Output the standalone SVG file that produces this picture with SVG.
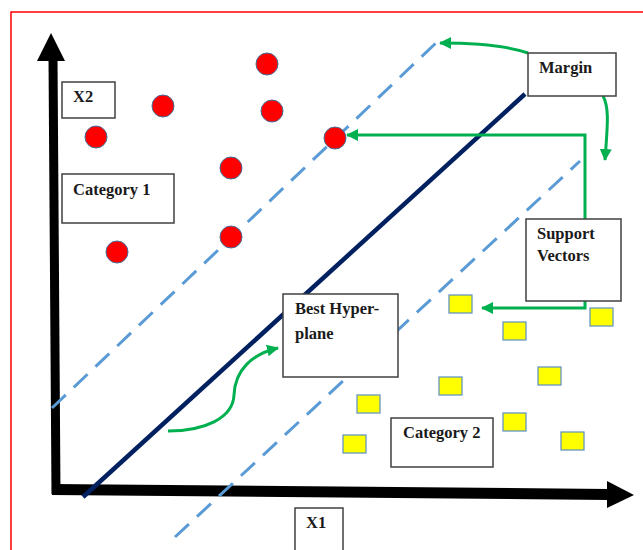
<svg xmlns="http://www.w3.org/2000/svg" width="643" height="550" viewBox="0 0 643 550">
  <style>
    .box { fill: #ffffff; stroke: #404040; stroke-width: 1.5; }
    .lbl { font-family: "Liberation Serif", "Times New Roman", serif; font-weight: bold; font-size: 16.5px; fill: #1a1a1a; }
    .pt1 { fill: #ff0000; stroke: #41719c; stroke-width: 1; }
    .pt2 { fill: #ffff00; stroke: #5b8ec4; stroke-width: 1.2; }
    .dash { fill: none; stroke: #5b9bd5; stroke-width: 3; stroke-dasharray: 19 11; }
    .green { fill: none; stroke: #00b050; stroke-width: 3; }
  </style>
  <defs>
    <marker id="ga" markerUnits="userSpaceOnUse" markerWidth="14" markerHeight="14" refX="11" refY="6" orient="auto">
      <path d="M0,0 L12,6 L0,12 Z" fill="#00b050"/>
    </marker>
  </defs>
  <rect x="0" y="0" width="643" height="550" fill="#ffffff"/>
  <!-- red frame -->
  <path d="M11,550 L11,12 L643,12" fill="none" stroke="#ff0000" stroke-width="1.5"/>

  <!-- axes -->
  <g id="axes">
    <line x1="53" y1="58" x2="56" y2="494" stroke="#000" stroke-width="9"/>
    <polygon points="51,33 37,61 65,61" fill="#000"/>
    <line x1="52" y1="489.5" x2="609" y2="494.5" stroke="#000" stroke-width="11"/>
    <polygon points="607,481 634,495 607,508" fill="#000"/>
  </g>

  <!-- lines -->
  <g id="hyperplane">
    <line x1="83" y1="497" x2="525" y2="94" stroke="#002060" stroke-width="4.5"/>
    <line x1="52" y1="408" x2="437" y2="42" class="dash"/>
    <line x1="175" y1="537" x2="580" y2="161" class="dash"/>
  </g>

  <!-- category 1 points -->
  <g id="category1-points">
    <circle cx="267" cy="64" r="11" class="pt1"/>
    <circle cx="163" cy="106" r="11" class="pt1"/>
    <circle cx="272" cy="111" r="11" class="pt1"/>
    <circle cx="96" cy="137" r="11" class="pt1"/>
    <circle cx="335" cy="138" r="11" class="pt1"/>
    <circle cx="231" cy="168" r="11" class="pt1"/>
    <circle cx="231" cy="237" r="11" class="pt1"/>
    <circle cx="117" cy="252" r="11" class="pt1"/>
  </g>

  <!-- category 2 points -->
  <g id="category2-points">
    <rect x="449" y="295" width="23" height="18" class="pt2"/>
    <rect x="590" y="308" width="23" height="18" class="pt2"/>
    <rect x="503" y="322" width="23" height="18" class="pt2"/>
    <rect x="538" y="367" width="23" height="18" class="pt2"/>
    <rect x="439" y="377" width="23" height="18" class="pt2"/>
    <rect x="357" y="395" width="23" height="18" class="pt2"/>
    <rect x="503" y="413" width="23" height="18" class="pt2"/>
    <rect x="343" y="435" width="23" height="18" class="pt2"/>
    <rect x="561" y="432" width="23" height="18" class="pt2"/>
  </g>

  <!-- connectors -->
  <g id="connectors">
    <path d="M528,53 C505,45 475,43 440,43" class="green" marker-end="url(#ga)"/>
    <path d="M603,96 C610,108 607,130 605,160" class="green" marker-end="url(#ga)"/>
    <path d="M585,219 L585,135 L347,135" class="green" marker-end="url(#ga)"/>
    <path d="M585,301 L585,308 L482,308" class="green" marker-end="url(#ga)"/>
    <path d="M168,431 C205,431 233,418 234,395 C235,370 252,354 278,348" class="green" marker-end="url(#ga)"/>
  </g>

  <!-- labels -->
  <g id="x2">
    <rect x="62" y="82" width="53" height="36" class="box"/>
    <text x="73" y="102" class="lbl">X2</text>
  </g>
  <g id="category1">
    <rect x="62" y="174" width="112" height="49" class="box"/>
    <text x="73" y="195" class="lbl">Category 1</text>
  </g>
  <g id="margin">
    <rect x="528" y="53" width="88" height="43" class="box"/>
    <text x="539" y="73" class="lbl">Margin</text>
  </g>
  <g id="support-vectors">
    <rect x="526" y="219" width="95" height="82" class="box"/>
    <text x="537" y="239" class="lbl">Support</text>
    <text x="537" y="261" class="lbl">Vectors</text>
  </g>
  <g id="best-hyperplane">
    <rect x="283" y="294" width="115" height="83" class="box"/>
    <text x="295" y="314" class="lbl">Best Hyper-</text>
    <text x="295" y="339" class="lbl">plane</text>
  </g>
  <g id="category2">
    <rect x="391" y="418" width="102" height="49" class="box"/>
    <text x="403" y="438" class="lbl">Category 2</text>
  </g>
  <g id="x1">
    <rect x="295" y="508" width="48" height="50" class="box"/>
    <text x="306" y="528" class="lbl">X1</text>
  </g>
</svg>
